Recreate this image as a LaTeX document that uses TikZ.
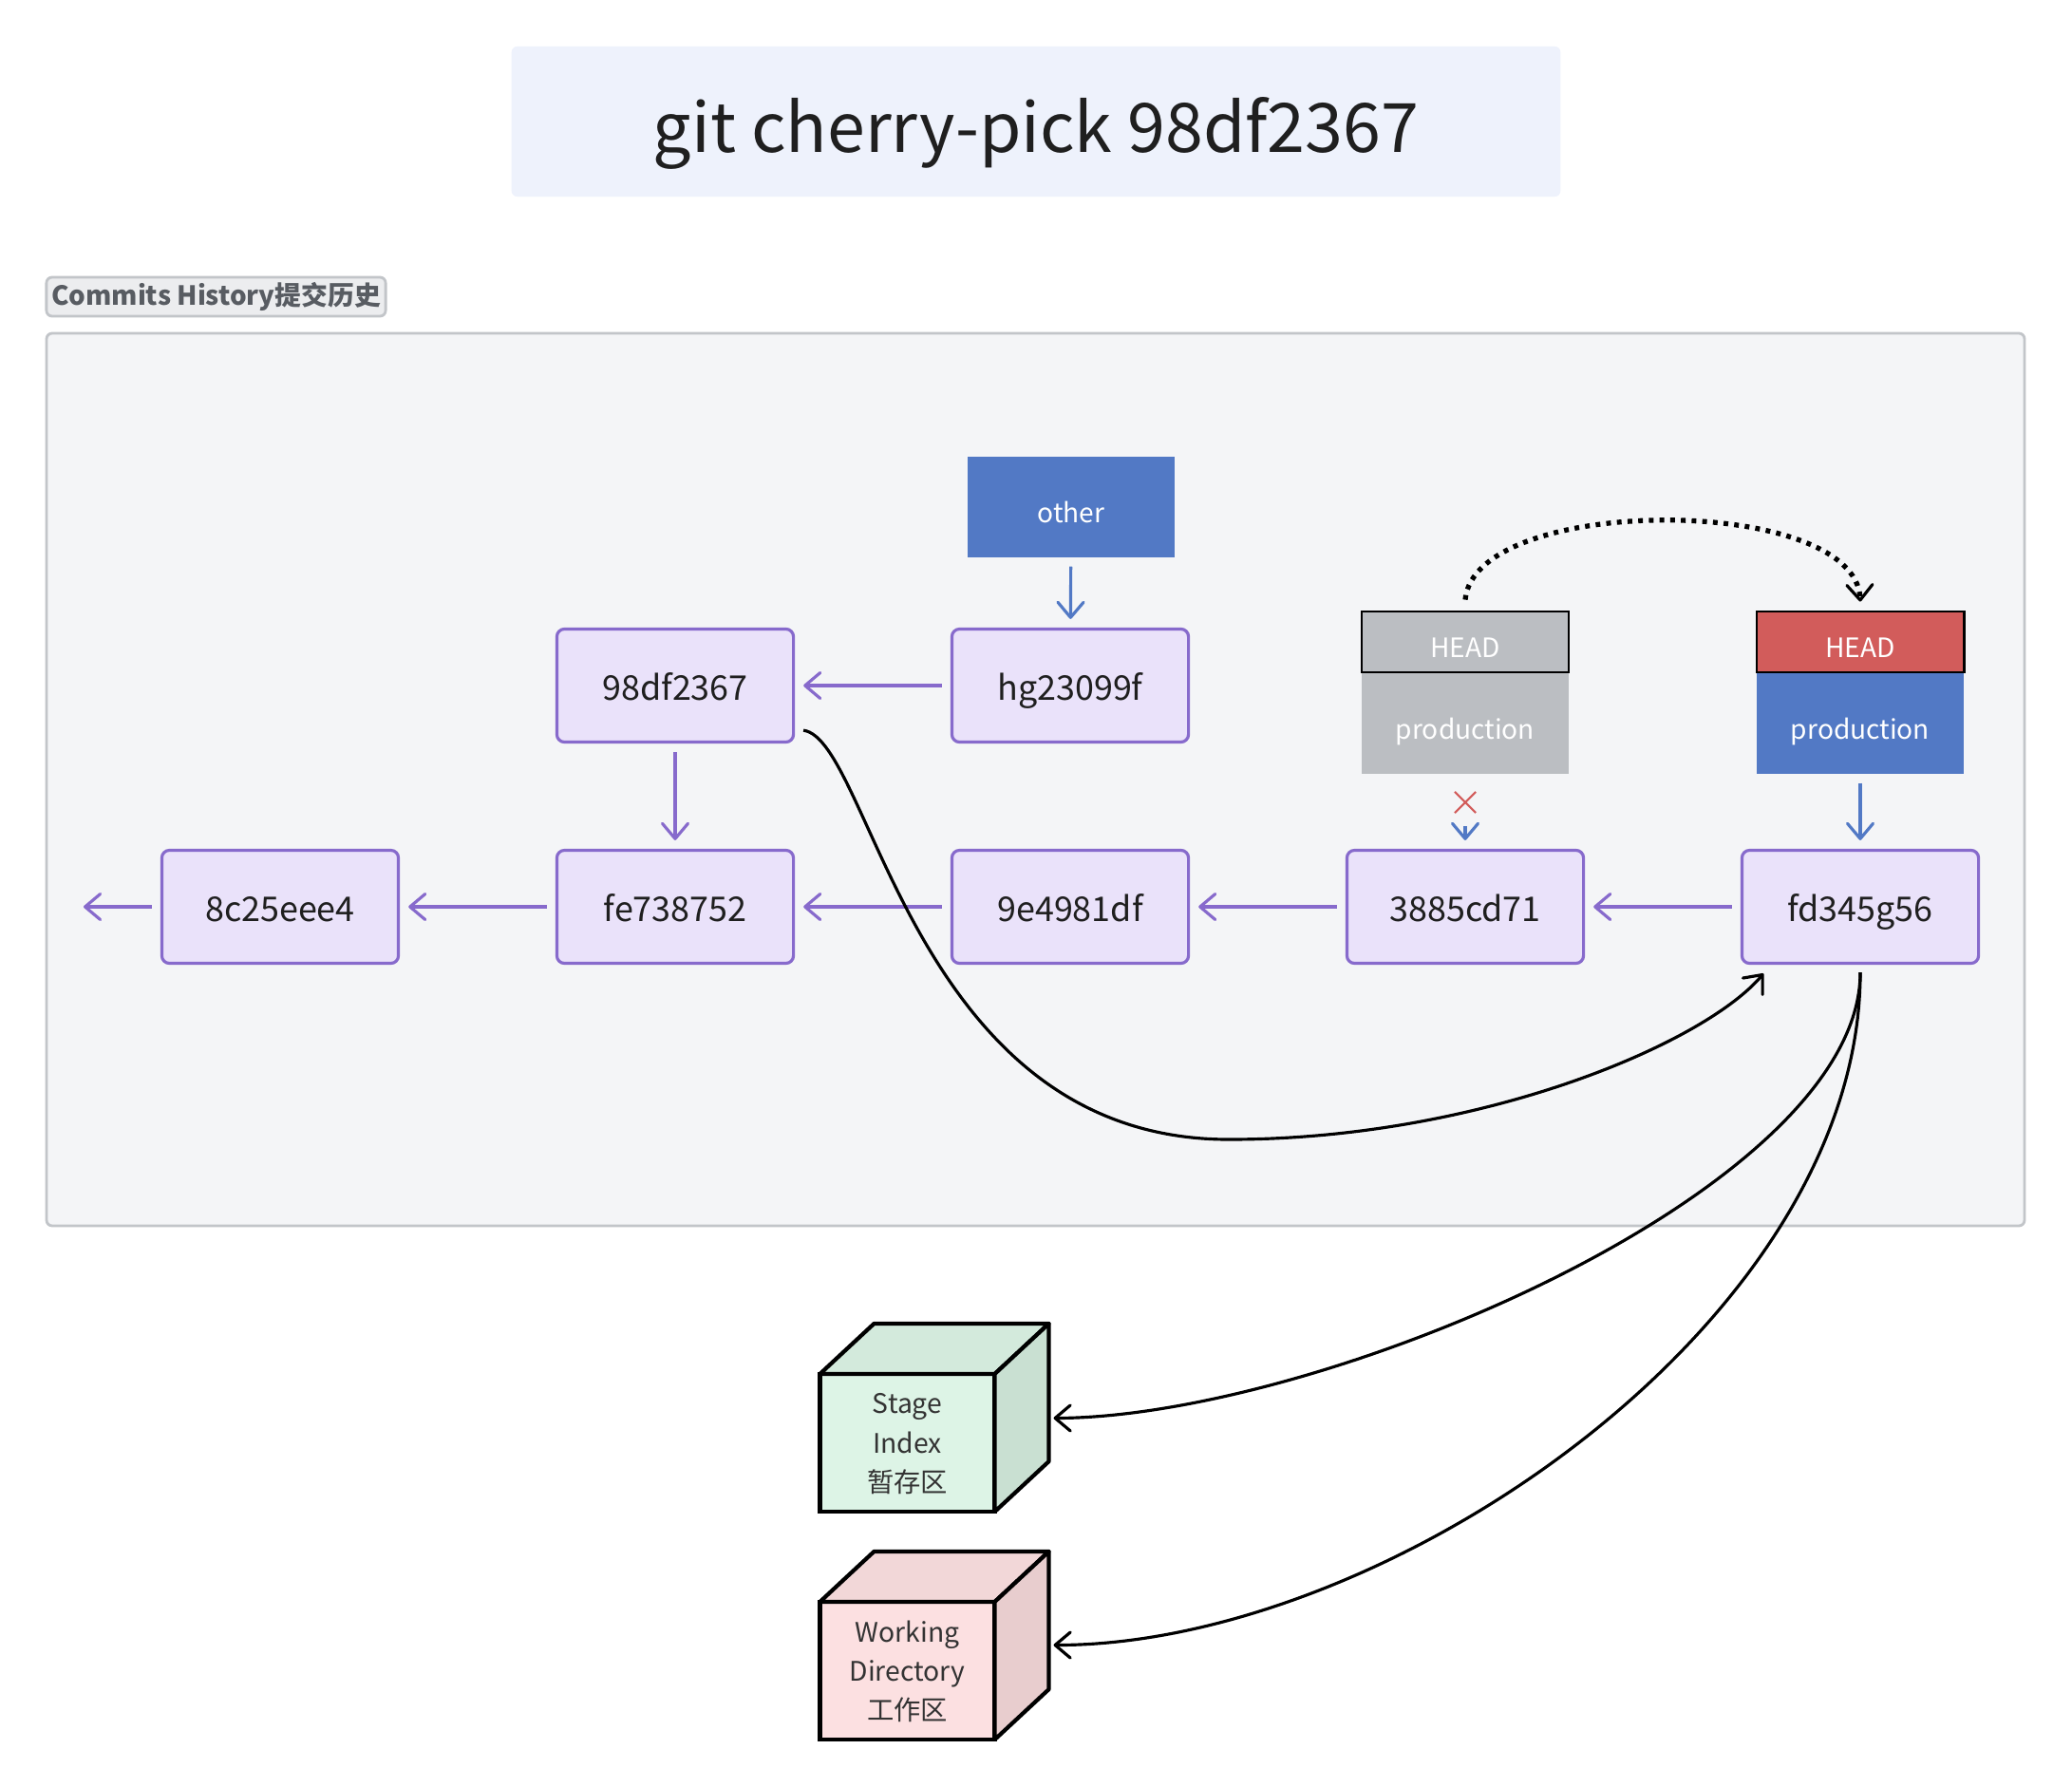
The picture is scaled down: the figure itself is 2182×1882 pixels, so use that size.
\documentclass[tikz,border=0pt]{standalone}
\usepackage{fontspec}
\setmainfont{Noto Sans CJK SC}
\usetikzlibrary{arrows.meta,calc,shapes.misc}
\usepackage{xcolor}
\definecolor{titleFill}{RGB}{238,242,252}
\definecolor{groupFill}{RGB}{244,245,247}
\definecolor{groupLine}{RGB}{194,197,201}
\definecolor{tabFill}{RGB}{236,237,239}
\definecolor{tabText}{RGB}{88,92,98}
\definecolor{commitFill}{RGB}{234,226,250}
\definecolor{commitLine}{RGB}{135,106,204}
\definecolor{branchBlue}{RGB}{82,121,197}
\definecolor{headGray}{RGB}{187,190,194}
\definecolor{headRed}{RGB}{210,92,91}
\definecolor{stageFront}{RGB}{221,244,230}
\definecolor{stageTop}{RGB}{211,234,220}
\definecolor{stageSide}{RGB}{201,224,210}
\definecolor{workFront}{RGB}{252,224,225}
\definecolor{workTop}{RGB}{242,215,216}
\definecolor{workSide}{RGB}{232,205,206}

\begin{document}
\begin{tikzpicture}[x=0.01cm, y=-0.01cm,
  commit/.style={draw=commitLine, fill=commitFill, line width=0.9pt, rounded corners=0.08cm,
    minimum width=2.49cm, minimum height=1.19cm, text height=1.0em, text depth=0.1em,
    font=\fontsize{10.2}{12}\selectfont, text=black!88},
  refbox/.style={minimum width=2.18cm, text=white, text height=1.05em, text depth=0.1em,
    font=\fontsize{8}{10}\selectfont, inner sep=0pt},
  link/.style={commitLine, line width=0.9pt, -{Straight Barb[length=0.16cm,width=0.27cm,round]},
    shorten <=0.09cm, shorten >=0.09cm},
  ptr/.style={link, branchBlue},
  flow/.style={black, line width=0.9pt, -{Straight Barb[length=0.16cm,width=0.27cm,round]}},
  cube/.style={draw=black, line width=1.2pt, outer sep=0pt, minimum width=1.84cm, minimum height=1.45cm,
    align=center, text=black!80, font=\fontsize{8.05}{11.7}\selectfont, inner sep=0pt},
]

  % Page
  \useasboundingbox (0,0) rectangle (2182,1882);
  \fill[white] (0,0) rectangle (2182,1882);

  % Title
  \node[fill=titleFill, rounded corners=0.06cm, minimum width=11.04cm, minimum height=1.58cm] (titleBox) at (1091,128) {};
  \node[font=\fontsize{20.4}{24}\selectfont, text=black!88] (title) at (1091,140) {git cherry-pick 98df2367};

  % Commits history frame
  \filldraw[fill=groupFill, draw=groupLine, line width=0.8pt, rounded corners=0.06cm] (49,351) rectangle (2132,1291);
  \node[fill=tabFill, draw=groupLine, line width=0.8pt, rounded corners=0.06cm, minimum width=3.57cm,
    minimum height=0.41cm, inner sep=0pt, text=tabText, font=\bfseries\fontsize{7.9}{9}\selectfont]
    (tab) at (227.5,312.5) {Commits History提交历史};

  % Commits
  \node[commit] (c8c25) at (295,955) {8c25eee4};
  \node[commit] (cfe73) at (711,955) {fe738752};
  \node[commit] (c9e49) at (1127,955) {9e4981df};
  \node[commit] (c3885) at (1543,955) {3885cd71};
  \node[commit] (cfd34) at (1959,955) {fd345g56};
  \node[commit] (c98df) at (711,722) {98df2367};
  \node[commit] (chg23) at (1127,722) {hg23099f};

  % Branch labels
  \node[refbox, fill=branchBlue, minimum height=1.06cm] (other) at (1128,534) {other};
  \node[refbox, fill=headGray, minimum height=1.07cm] (prodOld) at (1543,761.5) {production};
  \node[refbox, fill=headGray, draw=black, line width=0.8pt, minimum height=0.64cm] (headOld) at (1543,676) {HEAD};
  \node[refbox, fill=branchBlue, minimum height=1.07cm] (prodNew) at (1959,761.5) {production};
  \node[refbox, fill=headRed, draw=black, line width=0.8pt, minimum height=0.64cm] (headNew) at (1959,676) {HEAD};

  % Parent links
  \coordinate (tail) at (88,955);
  \draw[link] (chg23) -- (c98df);
  \draw[link] (c98df) -- (cfe73);
  \draw[link, shorten >=0pt] (c8c25) -- (tail);
  \draw[link] (cfe73) -- (c8c25);
  \draw[link] (c9e49) -- (cfe73);
  \draw[link] (c3885) -- (c9e49);
  \draw[link] (cfd34) -- (c3885);

  % Branch pointers
  \draw[ptr] (other) -- (chg23);
  \draw[ptr] (prodNew) -- (cfd34);
  \node[cross out, draw=headRed, line width=0.6pt, minimum size=0.2cm, inner sep=0pt] (cut) at (1543,845) {};
  \coordinate (stub) at (1543,870);
  \draw[ptr, shorten <=0pt] (stub) -- (c3885);

  % HEAD moves
  \draw[black, line width=1.5pt, dash pattern=on 1.4pt off 1.8pt,
    -{Straight Barb[length=0.16cm,width=0.27cm,round,line width=0.9pt]}]
    ($(headOld.north)+(0,-11)$) .. controls (1553,520) and (1955,520) .. ($(headNew.north)+(0,-9)$);

  % Cherry-picked commit
  \draw[flow, shorten <=0.09cm, shorten >=0.12cm] (c98df.-20) .. controls (918,779) and (960,1200) .. (1294,1200)
    .. controls (1559,1200) and (1795,1099) .. (cfd34.213);

  % Stage index and working directory
  \node[cube, fill=stageFront, text depth=0pt] (stage) at (955.5,1519.5) {Stage\\Index\\暂存区};
  \filldraw[fill=stageTop, line width=1.2pt, line join=round] (stage.north west) -- ++(57,-53)
    -- ($(stage.north east)+(57,-53)$) -- (stage.north east) -- cycle;
  \filldraw[fill=stageSide, line width=1.2pt, line join=round] (stage.north east) -- ++(57,-53)
    -- ($(stage.south east)+(57,-53)$) -- (stage.south east) -- cycle;
  \node[cube, fill=workFront, text depth=0pt] (work) at (955.5,1759.5) {Working\\Directory\\工作区};
  \filldraw[fill=workTop, line width=1.2pt, line join=round] (work.north west) -- ++(57,-53)
    -- ($(work.north east)+(57,-53)$) -- (work.north east) -- cycle;
  \filldraw[fill=workSide, line width=1.2pt, line join=round] (work.north east) -- ++(57,-53)
    -- ($(work.south east)+(57,-53)$) -- (work.south east) -- cycle;

  \coordinate (stageIn) at ($(stage.east)+(62,-26)$);
  \coordinate (workIn) at ($(work.east)+(62,-27)$);
  \draw[flow, shorten <=0.08cm] (cfd34.south) .. controls (1959,1252) and (1392,1493) .. (stageIn);
  \draw[flow, shorten <=0.08cm] (cfd34.south) .. controls (1959,1392) and (1461,1733) .. (workIn);

\end{tikzpicture}
\end{document}
